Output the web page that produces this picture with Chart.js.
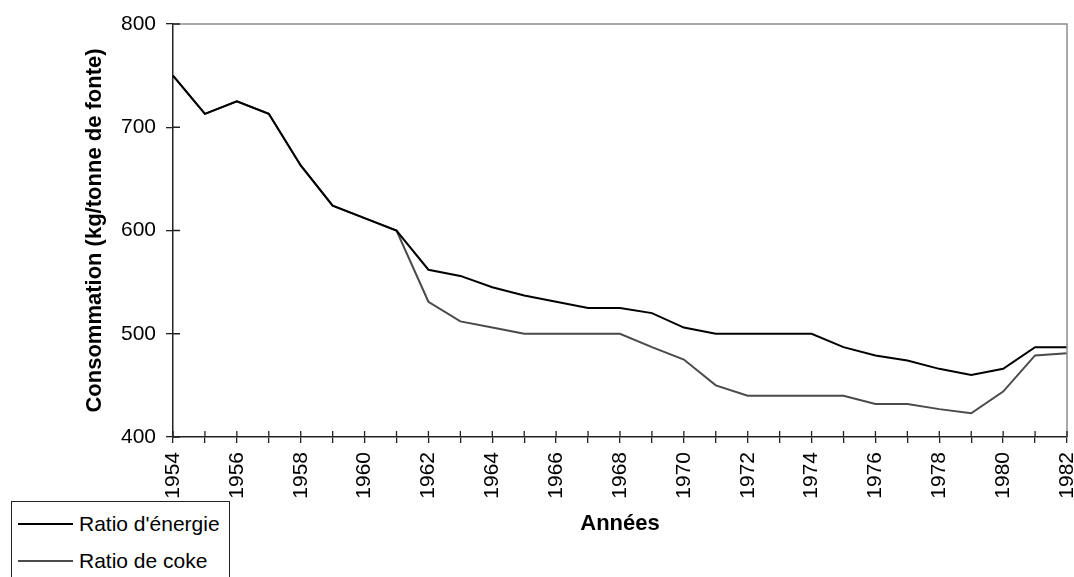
<!DOCTYPE html>
<html>
<head>
<meta charset="utf-8">
<script src="https://cdn.jsdelivr.net/npm/chart.js@4/dist/chart.umd.min.js"></script>
<style>
  html, body { margin: 0; padding: 0; background: #fff; }
  #wrap { position: relative; width: 1074px; height: 577px; overflow: hidden; }
  #legend {
    position: absolute; left: 11px; top: 501px; width: 217px; height: 100px;
    border: 1px solid #222; background: #fff;
    font-family: "Liberation Sans", Arial, sans-serif; font-size: 21px; color: #000;
  }
  #legend div { display: flex; align-items: center; height: 37px; }
  #legend div:first-child { margin-top: 3px; }
  #legend span.swatch { display: inline-block; width: 55px; margin-left: 6px; margin-right: 6px; }
</style>
</head>
<body>
<div id="wrap">
  <canvas id="chart" width="1074" height="577"></canvas>
  <div id="legend"></div>
</div>
<script>
const years = [1954, 1955, 1956, 1957, 1958, 1959, 1960, 1961, 1962, 1963, 1964, 1965, 1966, 1967,
  1968, 1969, 1970, 1971, 1972, 1973, 1974, 1975, 1976, 1977, 1978, 1979, 1980, 1981, 1982]
const ratioEnergie = [750, 713, 725, 713, 663, 624, 612, 600, 562, 556, 545, 537, 531, 525,
  525, 520, 506, 500, 500, 500, 500, 487, 479, 474, 466, 460, 466, 487, 487]
const ratioCoke = [750, 713, 725, 713, 663, 624, 612, 600, 531, 512, 506, 500, 500, 500,
  500, 487, 475, 450, 440, 440, 440, 440, 432, 432, 427, 423, 444, 479, 481]
const yTicks = [400, 500, 600, 700, 800]

const seriesNames = ["Ratio d'énergie", "Ratio de coke"]
const seriesColors = ["#000000", "#4a4a4a"]
const font = "'Liberation Sans', Arial, sans-serif"

// inward half of the crossing tick marks, plus the grey frame on top/right
const frame = {
  id: "frame",
  afterDraw(chart) {
    const { ctx, chartArea: a, scales: { x, y } } = chart
    ctx.save()
    ctx.strokeStyle = "#8c8c8c"
    ctx.lineWidth = 1.5
    ctx.beginPath()
    ctx.moveTo(a.left, a.top); ctx.lineTo(a.right, a.top); ctx.lineTo(a.right, a.bottom)
    ctx.stroke()
    ctx.strokeStyle = "#222"
    ctx.lineWidth = 1.3
    ctx.beginPath()
    x.ticks.forEach((t, i) => {
      const px = x.getPixelForTick(i)
      ctx.moveTo(px, a.bottom); ctx.lineTo(px, a.bottom - 6)
    })
    y.ticks.forEach((t, i) => {
      const py = y.getPixelForTick(i)
      ctx.moveTo(a.left, py); ctx.lineTo(a.left + 7, py)
    })
    ctx.stroke()
    ctx.restore()
  }
}

new Chart(document.getElementById("chart"), {
  type: "line",
  data: {
    labels: years,
    datasets: [ratioEnergie, ratioCoke].map((data, i) => ({
      label: seriesNames[i],
      data,
      borderColor: seriesColors[i],
      borderWidth: 2,
      pointRadius: 0,
      tension: 0
    }))
  },
  options: {
    responsive: false,
    animation: false,
    devicePixelRatio: 1,
    layout: { padding: { left: 82, right: 7, top: 24, bottom: 0 } },
    plugins: { legend: { display: false }, tooltip: { enabled: false } },
    scales: {
      x: {
        type: "category",
        offset: false,
        afterFit(s) { s.height = 140; s.paddingLeft = 0; s.paddingRight = 0 },
        border: { color: "#222", width: 1.5 },
        grid: { display: true, drawOnChartArea: false, tickLength: 6, color: "#222", lineWidth: 1.3 },
        ticks: {
          autoSkip: false, maxRotation: 90, minRotation: 90, padding: 9,
          color: "#000", font: { family: font, size: 21 },
          callback(v, i) { return years[i] % 2 === 0 ? String(years[i]) : "" }
        },
        title: {
          display: true, text: "Années", color: "#000",
          font: { family: font, size: 22, weight: "bold" }, padding: { top: 0, bottom: 40 }
        }
      },
      y: {
        min: 400, max: 800,
        afterFit(s) { s.width = 91; s.paddingTop = 0; s.paddingBottom = 0 },
        afterBuildTicks(s) { s.ticks = yTicks.map(v => ({ value: v })) },
        border: { color: "#222", width: 1.5 },
        grid: { display: true, drawOnChartArea: false, tickLength: 7, color: "#222", lineWidth: 1.3 },
        ticks: { padding: 10, color: "#000", font: { family: font, size: 21 } },
        title: {
          display: true, text: "Consommation (kg/tonne de fonte)", color: "#000",
          font: { family: font, size: 22, weight: "bold" }, padding: { top: 0, bottom: 0 }
        }
      }
    }
  },
  plugins: [frame]
})

const legend = document.getElementById("legend")
seriesNames.forEach((name, i) => {
  const row = document.createElement("div")
  const sw = document.createElement("span")
  sw.className = "swatch"
  sw.style.borderTop = `2px solid ${seriesColors[i]}`
  row.appendChild(sw)
  row.appendChild(document.createTextNode(name))
  legend.appendChild(row)
})
</script>
</body>
</html>
